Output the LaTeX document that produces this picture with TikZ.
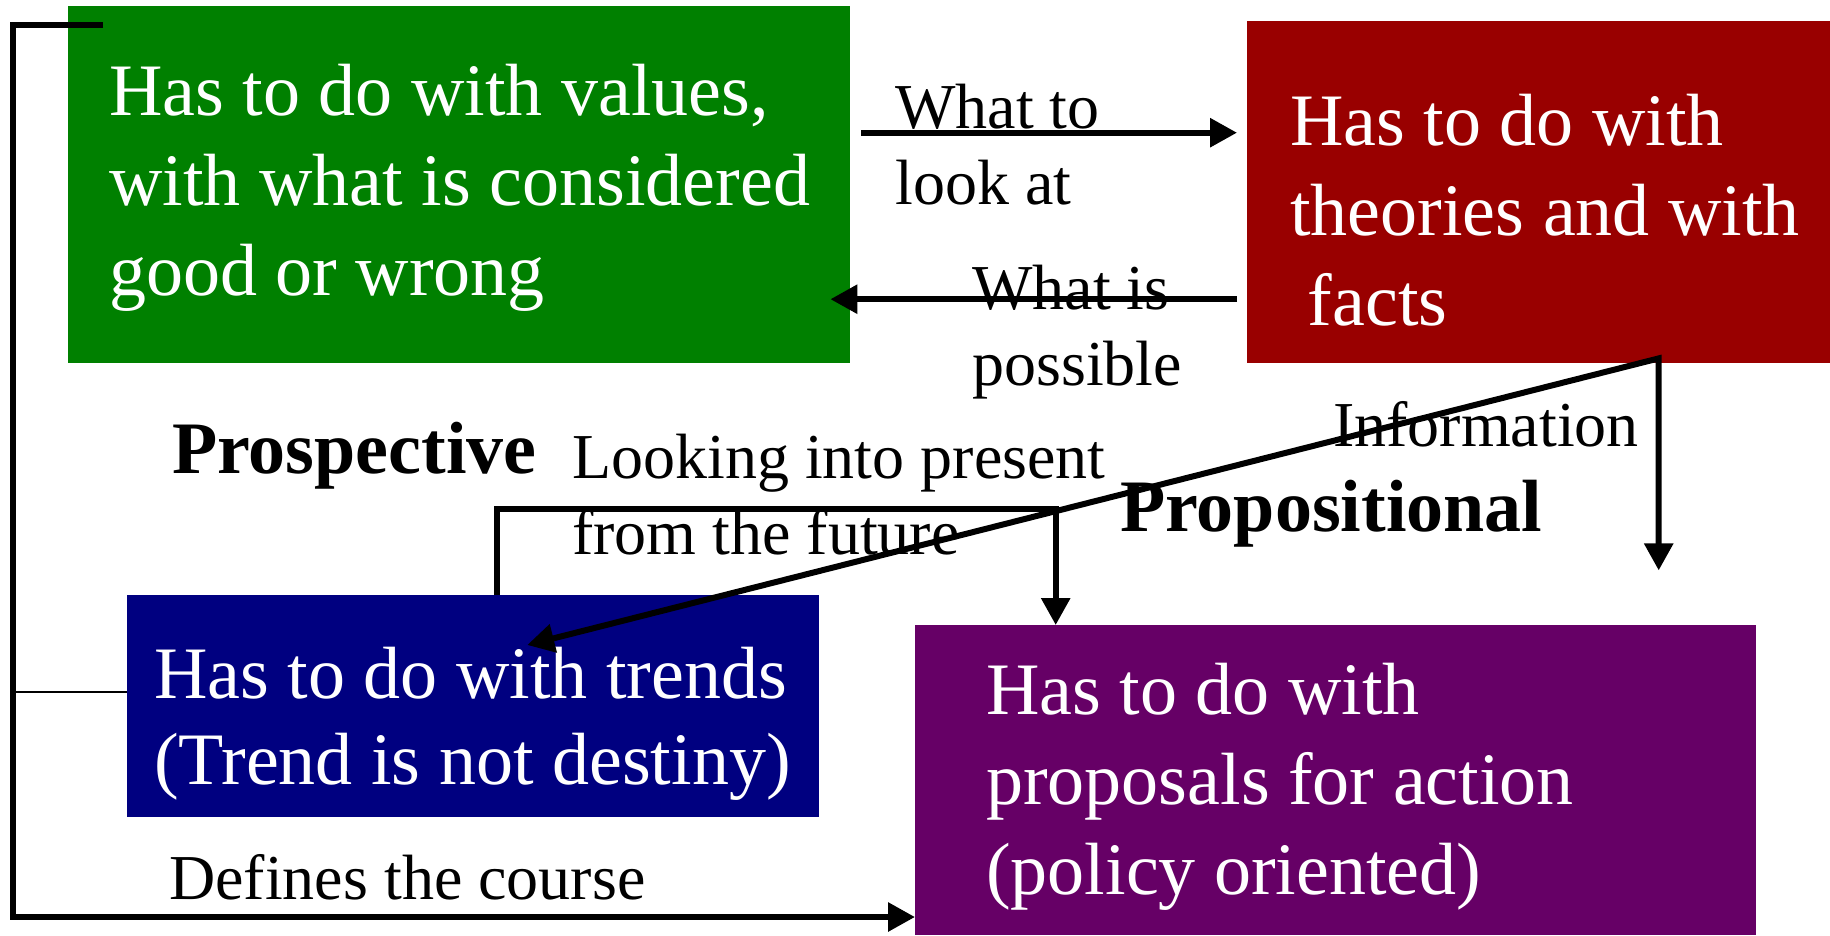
\documentclass[tikz,border=0pt]{standalone}
\usepackage{fontspec}
\setmainfont{Liberation Serif}
\usepackage{xcolor}
\usetikzlibrary{arrows.meta}
\definecolor{valuegreen}{RGB}{0,128,0}
\definecolor{factred}{RGB}{153,0,0}
\definecolor{trendblue}{RGB}{0,0,128}
\definecolor{actionpurple}{RGB}{102,0,102}
\tikzset{
    color-box/.style = {rectangle, inner sep=0pt, anchor=north west},
    box-text/.style = {text=white, align=left, anchor=base west, inner sep=0pt, font=\fontsize{74}{90}\selectfont},
    edge-label/.style = {align=left, anchor=base west, inner sep=0pt, font=\fontsize{64}{76}\selectfont},
    side-title/.style = {anchor=base west, inner sep=0pt, font=\fontsize{74}{90}\selectfont\bfseries},
    flow-arrow/.style = {line width=6pt, -{Triangle[length=27pt,width=28pt]}},
    split-arrow/.style = {line width=6pt, {Triangle[length=27pt,width=28pt]}-{Triangle[length=27pt,width=28pt]}},
    thin-link/.style = {line width=2.3pt},
}

\begin{document}
\begin{tikzpicture}[x=1pt, y=-1pt]
\useasboundingbox (0,0) rectangle (1830,935);
\node[color-box, fill=valuegreen, minimum width=782pt, minimum height=357pt] (values) at (68,6) {};
\node[color-box, fill=factred, minimum width=583pt, minimum height=342pt] (facts) at (1247,21) {};
\node[color-box, fill=trendblue, minimum width=692pt, minimum height=222pt] (trends) at (127,595) {};
\node[color-box, fill=actionpurple, minimum width=841pt, minimum height=310pt] (proposals) at (915,625) {};

\node[box-text] (values-text) at (109,295) {Has to do with values,\\with what is considered\\good or wrong};
\node[box-text] (facts-text) at (1290,325) {Has to do with\\theories and with\\\hspace*{0.24em}facts};
\node[box-text, font=\fontsize{74}{86}\selectfont] (trends-text) at (154,784) {Has to do with trends\\(Trend is not destiny)};
\node[box-text] (proposals-text) at (986,894) {Has to do with\\proposals for action\\(policy oriented)};

\node[edge-label] (look-label) at (895,204) {What to\\look at};
\node[edge-label] (possible-label) at (972,385) {What is\\possible};
\node[edge-label] (info-label) at (1333,446) {Information};
\node[edge-label] (future-label) at (572,554) {Looking into present\\from the future};
\node[edge-label] (course-label) at (169,899) {Defines the course};
\node[side-title] (prospective) at (172,473) {Prospective};
\node[side-title] (propositional) at (1120,531) {Propositional};

\draw[flow-arrow, shorten <=11pt, shorten >=10pt] ([yshift=52pt]values.east) -- ([yshift=52pt]values.east -| facts.west);
\draw[flow-arrow, shorten <=10pt, shorten >=-20pt] ([yshift=-107pt]facts.west) -- ([yshift=-107pt]facts.west -| values.east);

\coordinate (info-split) at ([xshift=120pt,yshift=5pt]facts.south);
\coordinate (info-end) at ([yshift=-212pt]info-split);
\draw[split-arrow] ([xshift=54pt,yshift=-50pt]trends.north) -- (info-split) -- (info-end);

\draw[flow-arrow] ([xshift=24pt]trends.north) -- ++(0,-86) -| ([xshift=-280pt]proposals.north);

\coordinate (rail) at (13,917);
\draw[flow-arrow] ([xshift=35pt,yshift=-19pt]values.north west) -| (rail) -- (rail -| proposals.west);
\draw[thin-link] ([yshift=14pt]trends.west) -- ([yshift=14pt]trends.west -| rail);
\end{tikzpicture}
\end{document}
